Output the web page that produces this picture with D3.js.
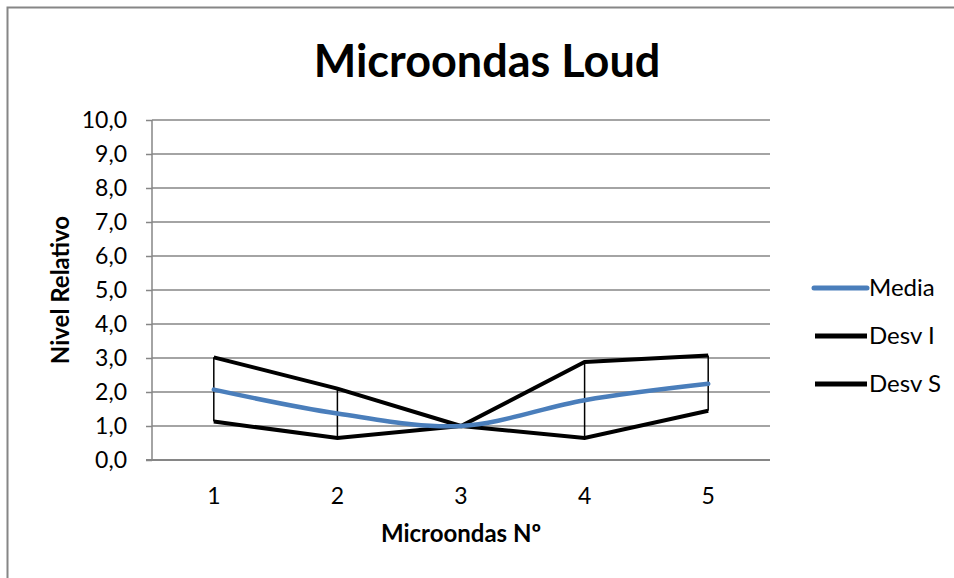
<!DOCTYPE html>
<html>
<head>
<meta charset="utf-8">
<script src="https://cdn.jsdelivr.net/npm/d3@7"></script>
<style>
  html, body { margin: 0; padding: 0; background: #fff; }
  svg { display: block; }
  text { font-family: Lato, "Open Sans", sans-serif; fill: #000; }
</style>
</head>
<body>
<svg id="chart" width="954" height="578"></svg>
<script>
// Series for the chart
const categories = ["1", "2", "3", "4", "5"];
const media = [2.07, 1.37, 1.0, 1.76, 2.24];
const desvI = [1.13, 0.65, 1.0, 0.65, 1.45];
const desvS = [3.02, 2.10, 1.0, 2.88, 3.07];
const yTicks = [0, 1, 2, 3, 4, 5, 6, 7, 8, 9, 10];
const legendItems = ["Media", "Desv I", "Desv S"];

const svg = d3.select("#chart");
const W = 954, H = 578;
const plot = { left: 152, right: 770, top: 120, bottom: 460 };
const tickFont = 23, labelFont = 24;

// Outer chart frame
svg.append("rect")
  .attr("x", 7.5).attr("y", 7.5)
  .attr("width", W + 10).attr("height", H + 10)
  .attr("fill", "none").attr("stroke", "#868686").attr("stroke-width", 2);

const x = d3.scaleBand().domain(categories).range([plot.left, plot.right]);
const y = d3.scaleLinear().domain([0, 10]).range([plot.bottom, plot.top]);
const cx = c => x(c) + x.bandwidth() / 2;

// Horizontal gridlines
svg.append("g").selectAll("line").data(yTicks.filter(t => t > 0)).join("line")
  .attr("x1", plot.left).attr("x2", plot.right)
  .attr("y1", d => y(d)).attr("y2", d => y(d))
  .attr("stroke", "#868686").attr("stroke-width", 1.5);

// Y axis
const yAxis = svg.append("g").attr("transform", `translate(${plot.left},0)`)
  .call(d3.axisLeft(y).tickValues(yTicks).tickSize(6).tickPadding(19)
    .tickFormat(d => d3.format(".1f")(d).replace(".", ",")));
yAxis.select(".domain").attr("stroke", "#868686").attr("stroke-width", 1.5)
  .attr("d", `M0,${plot.top}V${plot.bottom}`);
yAxis.selectAll(".tick line").attr("stroke", "#868686").attr("stroke-width", 1.5);
yAxis.selectAll(".tick text").attr("font-size", tickFont).attr("font-family", "Lato, sans-serif").attr("fill", "#000");

// X axis
const xAxis = svg.append("g").attr("transform", `translate(0,${plot.bottom})`)
  .call(d3.axisBottom(x).tickSize(0).tickPadding(28));
xAxis.select(".domain").attr("stroke", "#868686").attr("stroke-width", 2)
  .attr("d", `M${plot.left - 6},0H${plot.right}`);
xAxis.selectAll(".tick text").attr("font-size", tickFont).attr("font-family", "Lato, sans-serif").attr("fill", "#000");

// High-low connectors
svg.append("g").selectAll("line").data(categories).join("line")
  .attr("x1", d => cx(d)).attr("x2", d => cx(d))
  .attr("y1", (d, i) => y(desvS[i])).attr("y2", (d, i) => y(desvI[i]))
  .attr("stroke", "#000").attr("stroke-width", 1.5);

const straight = d3.line().x((d, i) => cx(categories[i])).y(d => y(d));
const smooth = d3.line().x((d, i) => cx(categories[i])).y(d => y(d))
  .curve(d3.curveCatmullRom.alpha(0));

svg.append("path").datum(desvI).attr("d", straight)
  .attr("fill", "none").attr("stroke", "#000").attr("stroke-width", 4)
  .attr("stroke-linejoin", "miter");
svg.append("path").datum(desvS).attr("d", straight)
  .attr("fill", "none").attr("stroke", "#000").attr("stroke-width", 4)
  .attr("stroke-linejoin", "miter");
svg.append("path").datum(media).attr("d", smooth)
  .attr("fill", "none").attr("stroke", "#4A7EBB").attr("stroke-width", 4.5)
  .attr("stroke-linecap", "round");

// Title
svg.append("text").attr("x", 487).attr("y", 77).attr("text-anchor", "middle")
  .attr("font-size", 45).attr("font-weight", "bold").text("Microondas Loud");

// Axis titles
svg.append("text").attr("x", 461).attr("y", 542).attr("text-anchor", "middle")
  .attr("font-size", labelFont).attr("font-weight", "bold").text("Microondas Nº");
svg.append("text").attr("transform", "translate(69,290) rotate(-90)")
  .attr("text-anchor", "middle")
  .attr("font-size", labelFont).attr("font-weight", "bold").text("Nivel Relativo");

// Legend
const legendColors = ["#4A7EBB", "#000", "#000"];
const lg = svg.append("g").selectAll("g").data(legendItems).join("g")
  .attr("transform", (d, i) => `translate(812,${288 + i * 48})`);
lg.append("line").attr("x1", (d, i) => i === 0 ? 2 : 3).attr("x2", 55)
  .attr("stroke", (d, i) => legendColors[i]).attr("stroke-width", 5)
  .attr("stroke-linecap", (d, i) => i === 0 ? "round" : "butt");
lg.append("text").attr("x", 57).attr("y", 8).attr("font-size", labelFont).text(d => d);
</script>
</body>
</html>
